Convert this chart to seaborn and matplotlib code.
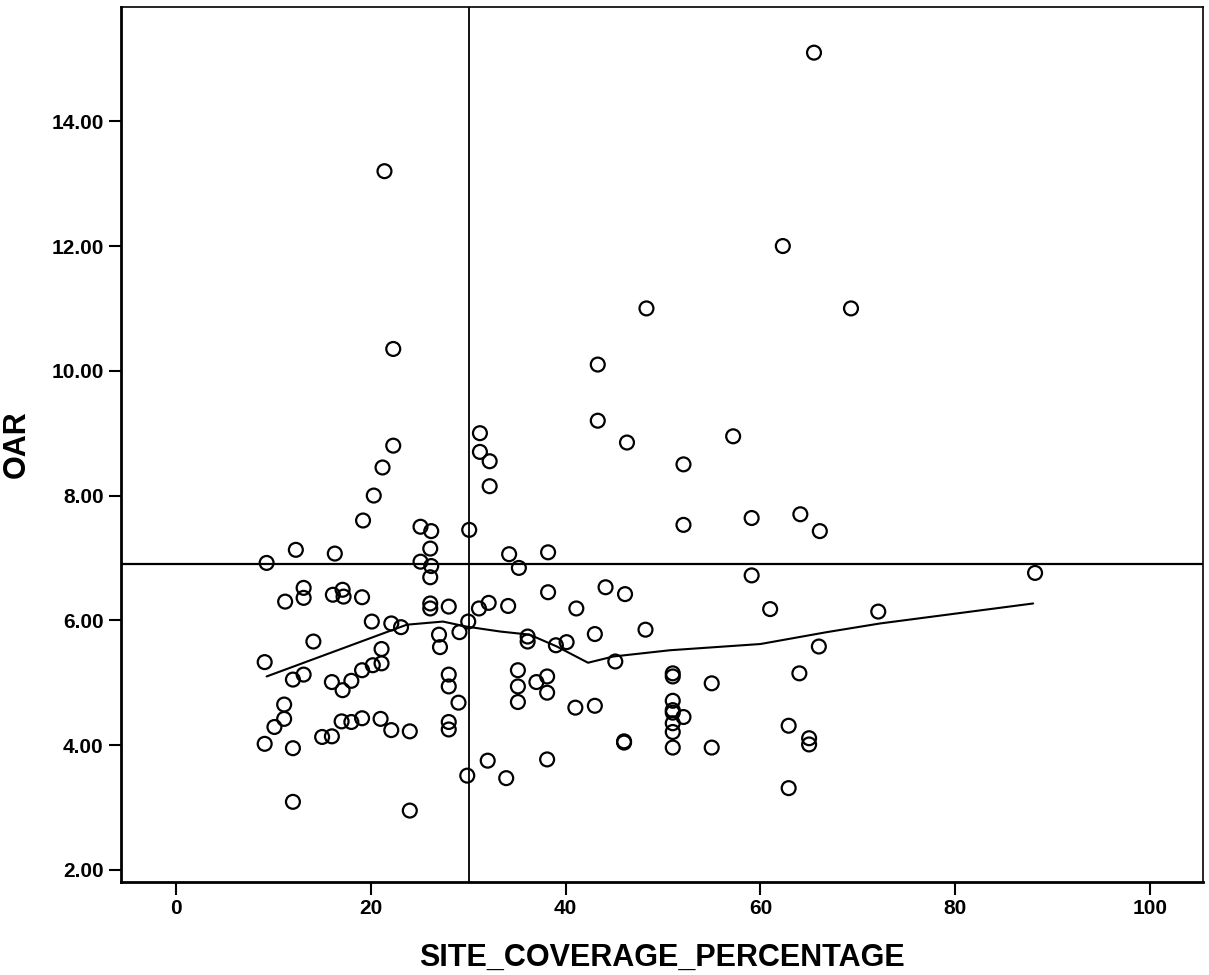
import matplotlib
matplotlib.use("Agg")
import matplotlib.pyplot as plt
import seaborn as sns
import pandas as pd

# values
site_coverage = [
    65.5, 21.4, 62.3, 48.3, 69.3, 22.3, 43.3, 43.3, 31.2, 46.3, 57.2, 31.2, 32.2, 52.1, 32.2, 22.3, 21.2, 20.3,
    19.2, 25.1, 26.2, 30.1, 12.3, 16.3, 26.1, 34.2, 38.2, 9.3, 25.1, 26.2, 35.2, 26.1, 13.1, 13.1, 11.2, 16.1,
    17.1, 17.2, 19.1, 26.1, 26.1, 28.0, 31.1, 32.1, 34.1, 38.2, 41.1, 20.1, 22.1, 23.1, 30.0, 29.1, 27.0, 27.1,
    36.1, 36.1, 39.0, 40.1, 43.0, 14.1, 9.1, 21.1, 21.1, 20.2, 19.1, 13.1, 12.0, 16.0, 18.0, 17.1, 28.0, 28.0,
    35.1, 35.1, 35.1, 37.0, 38.1, 38.1, 41.0, 43.0, 11.1, 11.1, 10.1, 9.1, 12.0, 15.0, 16.0, 17.0, 18.0, 19.1,
    21.0, 22.1, 24.0, 28.0, 28.0, 29.0, 32.0, 29.9, 33.9, 38.1, 12.0, 24.0,
    52.1, 59.1, 64.1, 66.1, 59.1, 88.2, 44.1, 46.1, 61.0, 72.1, 48.2, 66.0, 45.1, 51.0, 51.0, 64.0, 55.0, 51.0,
    51.0, 51.0, 52.1, 51.0, 51.0, 51.0, 55.0, 46.0, 46.0, 62.9, 65.0, 65.0, 62.9,
]
oar = [
    15.1, 13.2, 12.0, 11.0, 11.0, 10.35, 10.1, 9.2, 9.0, 8.85, 8.95, 8.7, 8.55, 8.5, 8.15, 8.8, 8.45, 8.0,
    7.6, 7.5, 7.43, 7.45, 7.13, 7.07, 7.15, 7.06, 7.09, 6.92, 6.94, 6.87, 6.84, 6.69, 6.52, 6.36, 6.30, 6.41,
    6.49, 6.38, 6.37, 6.27, 6.19, 6.22, 6.19, 6.28, 6.23, 6.45, 6.19, 5.98, 5.95, 5.89, 5.98, 5.81, 5.77, 5.57,
    5.74, 5.66, 5.60, 5.65, 5.78, 5.66, 5.33, 5.54, 5.31, 5.28, 5.20, 5.13, 5.05, 5.01, 5.03, 4.88, 5.13, 4.94,
    5.20, 4.94, 4.69, 5.01, 5.10, 4.84, 4.60, 4.63, 4.65, 4.42, 4.29, 4.02, 3.95, 4.13, 4.14, 4.38, 4.37, 4.43,
    4.42, 4.24, 4.22, 4.37, 4.25, 4.68, 3.75, 3.51, 3.47, 3.77, 3.09, 2.95,
    7.53, 7.64, 7.70, 7.43, 6.72, 6.76, 6.53, 6.42, 6.18, 6.14, 5.85, 5.58, 5.34, 5.15, 5.10, 5.15, 4.99, 4.71,
    4.56, 4.52, 4.45, 4.35, 4.21, 3.96, 3.96, 4.06, 4.04, 4.31, 4.11, 4.01, 3.31,
]

# loess fit line as drawn by SPSS
loess_x = [9.3, 22.3, 23.7, 27.4, 29.8, 33.3, 36.3, 39.1, 42.3, 44.9, 50.7, 60.0, 66.8, 72.3, 88.0]
loess_y = [5.10, 5.85, 5.93, 5.98, 5.90, 5.82, 5.77, 5.58, 5.32, 5.42, 5.52, 5.62, 5.81, 5.95, 6.27]

# reference lines
mean_coverage = 30.1
mean_oar = 6.90

x_ticks = [0, 20, 40, 60, 80, 100]
y_ticks = [2, 4, 6, 8, 10, 12, 14]

df = pd.DataFrame({"SITE_COVERAGE_PERCENTAGE": site_coverage, "OAR": oar})
fit = pd.DataFrame({"x": loess_x, "y": loess_y})

sns.set_style("ticks")
plt.rcParams["font.family"] = ["Liberation Sans", "DejaVu Sans"]
plt.rcParams["text.color"] = "black"
plt.rcParams["axes.labelcolor"] = "black"
plt.rcParams["xtick.color"] = "black"
plt.rcParams["ytick.color"] = "black"

fig = plt.figure(figsize=(12.09, 9.75), dpi=100)
ax = fig.add_axes([0.1001, 0.0957, 0.895, 0.897])

ax.axhline(mean_oar, color="black", lw=1.6, zorder=1)
ax.axvline(mean_coverage, color="black", lw=1.3, zorder=1)

sns.lineplot(data=fit, x="x", y="y", ax=ax, color="black", lw=1.5, zorder=2)
sns.scatterplot(data=df, x="SITE_COVERAGE_PERCENTAGE", y="OAR", ax=ax,
                marker="o", s=100, facecolor="none", edgecolor="black", linewidth=1.6, zorder=3)

ax.set_xlim(-5.65, 105.45)
ax.set_ylim(1.81, 15.83)
ax.set_xticks(x_ticks)
ax.set_xticklabels([str(t) for t in x_ticks])
ax.set_yticks(y_ticks)
ax.set_yticklabels([f"{t:.2f}" for t in y_ticks])
ax.tick_params(axis="both", direction="out", length=9, width=1.5, labelsize=15,
               color="black", labelcolor="black")
for lab in ax.get_xticklabels() + ax.get_yticklabels():
    lab.set_fontweight("bold")

for side in ["left", "bottom"]:
    ax.spines[side].set_linewidth(2)
for side in ["top", "right"]:
    ax.spines[side].set_visible(True)
    ax.spines[side].set_linewidth(1.2)
for sp in ax.spines.values():
    sp.set_color("black")

ax.set_xlabel("SITE_COVERAGE_PERCENTAGE", fontsize=22, fontweight="bold", labelpad=18, color="black")
ax.set_ylabel("OAR", fontsize=22, fontweight="bold", labelpad=14, color="black")

fig.savefig("out.png", dpi=100, facecolor="white")
